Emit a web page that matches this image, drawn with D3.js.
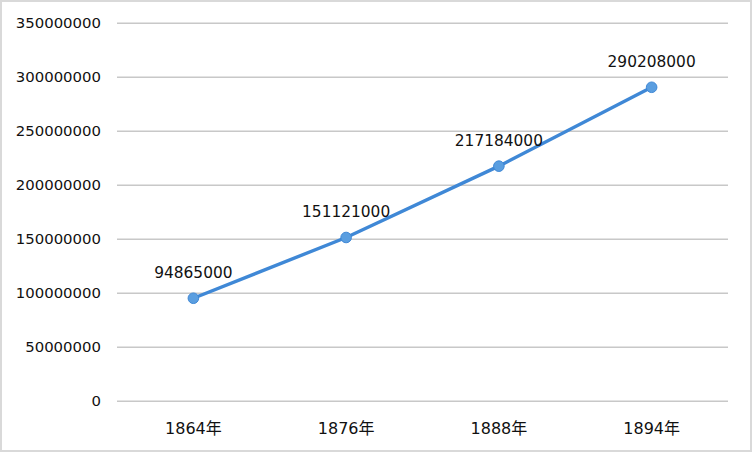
<!DOCTYPE html>
<html><head><meta charset="utf-8">
<script src="https://cdn.jsdelivr.net/npm/d3@7"></script>
<style>html,body{margin:0;padding:0;background:#fff;}svg{display:block;}</style>
</head><body>
<script>
const categories = ["1864年", "1876年", "1888年", "1894年"];
const values = [94865000, 151121000, 217184000, 290208000];
const yTicks = [0, 50000000, 100000000, 150000000, 200000000, 250000000, 300000000, 350000000];

(function () {
const W = 752, H = 452;
const svg = d3.select("body").append("svg").attr("width", W).attr("height", H);
svg.append("rect").attr("x", 1).attr("y", 1).attr("width", W - 2).attr("height", H - 2)
  .attr("fill", "#fff").attr("stroke", "#d9d9d9").attr("stroke-width", 2);

const mLeft = 117, mRight = 728, mTop = 22.7, mBottom = 400.7;
const x = d3.scaleBand().domain(categories).range([mLeft, mRight]);
const y = d3.scaleLinear().domain([0, 350000000]).range([mBottom, mTop]);
const font = "DejaVu Sans, 'Noto Sans CJK SC', sans-serif";

const yAxis = d3.axisLeft(y).tickValues(yTicks).tickSize(-(mRight - mLeft)).tickPadding(16).tickFormat(d3.format("d"));
const gy = svg.append("g").attr("transform", `translate(${mLeft},0)`).call(yAxis);
gy.select(".domain").remove();
gy.selectAll(".tick line").attr("stroke", "#c8c8c8").attr("stroke-width", 1.5);
gy.selectAll(".tick text").attr("fill", "#111").style("font-family", font).style("font-size", "14.9px");

const xAxis = d3.axisBottom(x).tickSize(0).tickPadding(22);
const gx = svg.append("g").attr("transform", `translate(0,${mBottom})`).call(xAxis);
gx.select(".domain").remove();
gx.selectAll(".tick text").attr("fill", "#111").style("font-family", font).style("font-size", "16px");

const cx = d => x(d) + x.bandwidth() / 2;
const pts = categories.map((c, i) => ({c, v: values[i]}));
svg.append("path").datum(pts)
  .attr("d", d3.line().x(d => cx(d.c)).y(d => y(d.v)))
  .attr("fill", "none").attr("stroke", "#3f88d6").attr("stroke-width", 3.4).attr("stroke-linecap", "round");
svg.selectAll("circle.pt").data(pts).enter().append("circle")
  .attr("cx", d => cx(d.c)).attr("cy", d => y(d.v)).attr("r", 5.3)
  .attr("fill", "#5a9ee0").attr("stroke", "#3f88d6").attr("stroke-width", 1);
svg.selectAll("text.lbl").data(pts).enter().append("text")
  .attr("x", d => cx(d.c)).attr("y", d => y(d.v) - 20)
  .attr("text-anchor", "middle").attr("fill", "#111")
  .style("font-family", font).style("font-size", "15.4px")
  .text(d => d.v);
})();
</script>
</body></html>
